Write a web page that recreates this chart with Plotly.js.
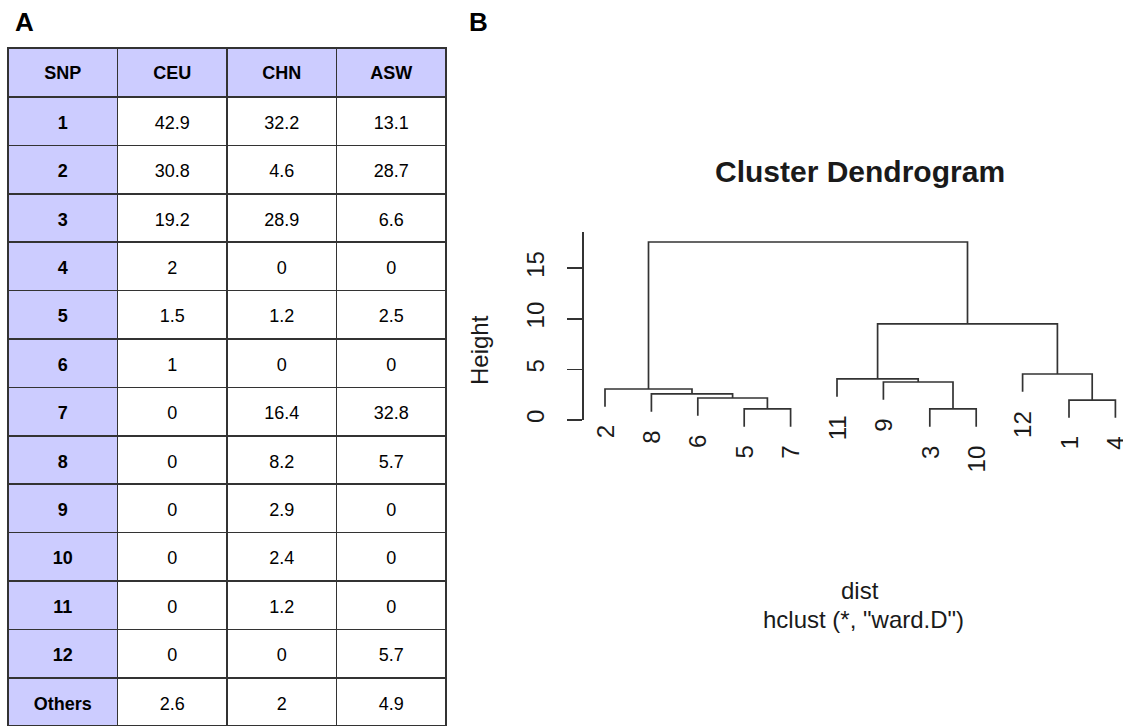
<!DOCTYPE html>
<html>
<head>
<meta charset="utf-8">
<script src="https://cdn.plot.ly/plotly-3.0.1.min.js"></script>
<style>
html,body{margin:0;padding:0;background:#fff;}
#chart{width:1123px;height:726px;}
</style>
</head>
<body>
<div id="chart"></div>
<script>
// ---------- Panel A data ----------
var headers = ['SNP', 'CEU', 'CHN', 'ASW'];
var snp = ['1','2','3','4','5','6','7','8','9','10','11','12','Others'];
var ceu = [42.9, 30.8, 19.2, 2, 1.5, 1, 0, 0, 0, 0, 0, 0, 2.6];
var chn = [32.2, 4.6, 28.9, 0, 1.2, 0, 16.4, 8.2, 2.9, 2.4, 1.2, 0, 2];
var asw = [13.1, 28.7, 6.6, 0, 2.5, 0, 32.8, 5.7, 0, 0, 0, 5.7, 4.9];

// ---------- Panel B data (hclust, R-style merge matrix) ----------
var leafOrder = [2, 8, 6, 5, 7, 11, 9, 3, 10, 12, 1, 4];
var mergeA = [-5, -3, -1, -6, -8, -2, -9, -11, -12, 8, 6];
var mergeB = [-7, -10, -4, 1, 4, 5, 2, 7, 3, 9, 10];
var mergeHeight = [1.09, 1.09, 1.97, 2.17, 2.57, 3.06, 3.75, 4.05, 4.54, 9.48, 17.57];
var hangFrac = 0.1;
var yTicks = [0, 5, 10, 15];

// ---------- Build dendrogram segments ----------
var W = 1123, H = 726;
var hang = hangFrac * Math.max.apply(null, mergeHeight);
var leafX = {};
leafOrder.forEach(function (lab, i) { leafX[lab] = i + 1; });
var nodeX = [], nodeY = [];
var lx = [], ly = [];
var leafBottom = {};
function child(c, h) {
  if (c < 0) {
    var lab = -c;
    leafBottom[lab] = h - hang;
    return [leafX[lab], h - hang];
  }
  return [nodeX[c - 1], nodeY[c - 1]];
}
for (var k = 0; k < mergeA.length; k++) {
  var h = mergeHeight[k];
  var a = child(mergeA[k], h), b = child(mergeB[k], h);
  lx.push(a[0], a[0], b[0], b[0], null);
  ly.push(a[1], h, h, b[1], null);
  nodeX.push((a[0] + b[0]) / 2);
  nodeY.push(h);
}

// pixel geometry of the R plot region
var axisPx = 584, leaf1Px = 605, leafStep = 46.4;
var zeroPx = 420, pxPerUnit = 10.13, axisTopPx = 232;
var xr0 = 1 - (leaf1Px - axisPx) / leafStep;
var xr1 = xr0 + (W - axisPx) / leafStep;
var dTopPx = 200, dBotPx = 480;

var font = '"Liberation Sans", Arial, Helvetica, sans-serif';
var ink = '#1a1a1a';

var annotations = [];
leafOrder.forEach(function (lab) {
  annotations.push({
    xref: 'x', yref: 'y', x: leafX[lab], y: leafBottom[lab],
    text: String(lab), showarrow: false, textangle: -90,
    xanchor: 'center', yanchor: 'top', yshift: -17,
    font: {family: font, size: 24, color: ink}
  });
});
function paperText(txt, px, py, size, extra) {
  var o = {xref: 'paper', yref: 'paper', x: px / W, y: 1 - py / H, text: txt,
    showarrow: false, xanchor: 'center', yanchor: 'middle',
    font: {family: font, size: size, color: ink}};
  for (var key in extra) o[key] = extra[key];
  return o;
}
annotations.push(paperText('<b>Cluster Dendrogram</b>', 860, 172, 30, {}));
annotations.push(paperText('Height', 479, 350, 24, {textangle: -90}));
annotations.push(paperText('dist', 860, 590, 24, {}));
annotations.push(paperText('hclust (*, "ward.D")', 863, 619, 24, {}));
annotations.push(paperText('<b>A</b>', 24, 22, 26, {font: {family: font, size: 26, color: '#000'}}));
annotations.push(paperText('<b>B</b>', 478, 22, 26, {font: {family: font, size: 26, color: '#000'}}));

// ---------- Table ----------
var lav = '#ccccff';
var nRows = snp.length;
var tblFont = 18;
var headPadFont = 10.4;  // size of a blank spacer line that pushes text to the cell middle
var cellPadFont = 10.6;
function fillCol(c) { var r = []; for (var i = 0; i < nRows; i++) r.push(c); return r; }
function cellTxt(v, bold) {
  var s = String(v);
  if (bold) s = '<b>' + s + '</b>';
  return '\u00a0<br><span style="font-size:' + tblFont + 'px">' + s + '</span>';
}
var table = {
  type: 'table',
  domain: {x: [8 / W, 446 / W], y: [0, 1 - 48 / H]},
  columnwidth: [1, 1, 1, 1],
  header: {
    values: headers.map(function (s) { return cellTxt(s, true); }),
    fill: {color: lav},
    line: {color: '#333', width: 1.5},
    align: 'center', height: 49,
    font: {family: font, size: headPadFont, color: '#000'}
  },
  cells: {
    values: [snp.map(function (s) { return cellTxt(s, true); }),
             ceu.map(function (v) { return cellTxt(v); }),
             chn.map(function (v) { return cellTxt(v); }),
             asw.map(function (v) { return cellTxt(v); })],
    fill: {color: [fillCol(lav), fillCol('#ffffff'), fillCol('#ffffff'), fillCol('#ffffff')]},
    line: {color: '#333', width: 1.5},
    align: 'center', height: 48.4,
    font: {family: font, size: cellPadFont, color: '#000'}
  }
};

var dend = {
  type: 'scatter', mode: 'lines', x: lx, y: ly, xaxis: 'x', yaxis: 'y',
  line: {color: '#333', width: 1.7}, hoverinfo: 'skip', showlegend: false
};
var axisHolder = {
  type: 'scatter', mode: 'lines', x: [], y: [], xaxis: 'x', yaxis: 'y2',
  showlegend: false, hoverinfo: 'skip'
};

var layout = {
  width: W, height: H,
  margin: {l: 0, r: 0, t: 0, b: 0},
  paper_bgcolor: '#fff', plot_bgcolor: 'rgba(0,0,0,0)',
  showlegend: false,
  xaxis: {domain: [axisPx / W, 1], range: [xr0, xr1], visible: false, fixedrange: true},
  yaxis: {
    domain: [1 - dBotPx / H, 1 - dTopPx / H],
    range: [(zeroPx - dBotPx) / pxPerUnit, (zeroPx - dTopPx) / pxPerUnit],
    visible: false, fixedrange: true
  },
  yaxis2: {
    anchor: 'x', side: 'left',
    domain: [1 - zeroPx / H, 1 - axisTopPx / H],
    range: [0, (zeroPx - axisTopPx) / pxPerUnit],
    showline: true, linecolor: '#333', linewidth: 1.7,
    ticks: 'outside', ticklen: 15, tickwidth: 1.7, tickcolor: '#333',
    tickvals: yTicks, ticktext: yTicks.map(String),
    tickangle: -90, ticklabelstandoff: 14,
    tickfont: {family: font, size: 24, color: ink},
    showgrid: false, zeroline: false, fixedrange: true
  },
  annotations: annotations
};

Plotly.newPlot('chart', [table, dend, axisHolder], layout, {staticPlot: true, displayModeBar: false});
</script>
</body>
</html>
